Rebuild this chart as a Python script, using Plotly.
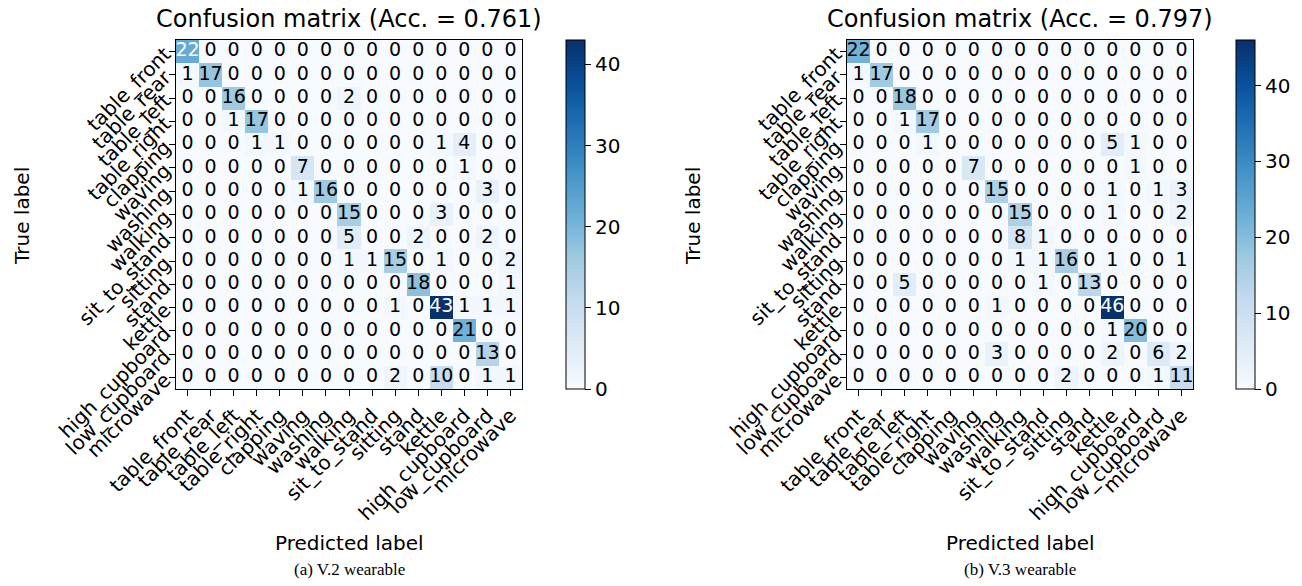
import plotly.graph_objects as go

labels = ["table_front", "table_rear", "table_left", "table_right", "clapping",
          "waving", "washing", "walking", "sit_to_stand", "sitting", "stand",
          "kettle", "high_cupboard", "low_cupboard", "microwave"]

cm_v2 = [
    [22, 0, 0, 0, 0, 0, 0, 0, 0, 0, 0, 0, 0, 0, 0],
    [1, 17, 0, 0, 0, 0, 0, 0, 0, 0, 0, 0, 0, 0, 0],
    [0, 0, 16, 0, 0, 0, 0, 2, 0, 0, 0, 0, 0, 0, 0],
    [0, 0, 1, 17, 0, 0, 0, 0, 0, 0, 0, 0, 0, 0, 0],
    [0, 0, 0, 1, 1, 0, 0, 0, 0, 0, 0, 1, 4, 0, 0],
    [0, 0, 0, 0, 0, 7, 0, 0, 0, 0, 0, 0, 1, 0, 0],
    [0, 0, 0, 0, 0, 1, 16, 0, 0, 0, 0, 0, 0, 3, 0],
    [0, 0, 0, 0, 0, 0, 0, 15, 0, 0, 0, 3, 0, 0, 0],
    [0, 0, 0, 0, 0, 0, 0, 5, 0, 0, 2, 0, 0, 2, 0],
    [0, 0, 0, 0, 0, 0, 0, 1, 1, 15, 0, 1, 0, 0, 2],
    [0, 0, 0, 0, 0, 0, 0, 0, 0, 0, 18, 0, 0, 0, 1],
    [0, 0, 0, 0, 0, 0, 0, 0, 0, 1, 0, 43, 1, 1, 1],
    [0, 0, 0, 0, 0, 0, 0, 0, 0, 0, 0, 0, 21, 0, 0],
    [0, 0, 0, 0, 0, 0, 0, 0, 0, 0, 0, 0, 0, 13, 0],
    [0, 0, 0, 0, 0, 0, 0, 0, 0, 2, 0, 10, 0, 1, 1],
]

cm_v3 = [
    [22, 0, 0, 0, 0, 0, 0, 0, 0, 0, 0, 0, 0, 0, 0],
    [1, 17, 0, 0, 0, 0, 0, 0, 0, 0, 0, 0, 0, 0, 0],
    [0, 0, 18, 0, 0, 0, 0, 0, 0, 0, 0, 0, 0, 0, 0],
    [0, 0, 1, 17, 0, 0, 0, 0, 0, 0, 0, 0, 0, 0, 0],
    [0, 0, 0, 1, 0, 0, 0, 0, 0, 0, 0, 5, 1, 0, 0],
    [0, 0, 0, 0, 0, 7, 0, 0, 0, 0, 0, 0, 1, 0, 0],
    [0, 0, 0, 0, 0, 0, 15, 0, 0, 0, 0, 1, 0, 1, 3],
    [0, 0, 0, 0, 0, 0, 0, 15, 0, 0, 0, 1, 0, 0, 2],
    [0, 0, 0, 0, 0, 0, 0, 8, 1, 0, 0, 0, 0, 0, 0],
    [0, 0, 0, 0, 0, 0, 0, 1, 1, 16, 0, 1, 0, 0, 1],
    [0, 0, 5, 0, 0, 0, 0, 0, 1, 0, 13, 0, 0, 0, 0],
    [0, 0, 0, 0, 0, 0, 1, 0, 0, 0, 0, 46, 0, 0, 0],
    [0, 0, 0, 0, 0, 0, 0, 0, 0, 0, 0, 1, 20, 0, 0],
    [0, 0, 0, 0, 0, 0, 3, 0, 0, 0, 0, 2, 0, 6, 2],
    [0, 0, 0, 0, 0, 0, 0, 0, 0, 2, 0, 0, 0, 1, 11],
]

titles = ["Confusion matrix (Acc. = 0.761)", "Confusion matrix (Acc. = 0.797)"]
captions = ["(a) V.2 wearable", "(b) V.3 wearable"]
cbar_ticks = [0, 10, 20, 30, 40]

W, H = 1302, 586
blues = [[0.0, "#f7fbff"], [0.125, "#deebf7"], [0.25, "#c6dbef"], [0.375, "#9ecae1"],
         [0.5, "#6baed6"], [0.625, "#4292c6"], [0.75, "#2171b5"], [0.875, "#08519c"],
         [1.0, "#08306b"]]

FONT = "DejaVu Sans"
panels = [
    dict(x0=176, x1=522, cb=566),
    dict(x0=847, x1=1193, cb=1236),
]
ytop, ybot = 40, 389

fig = go.Figure()
idx = list(range(len(labels)))
annotations = []

for k, (cm, p) in enumerate(zip([cm_v2, cm_v3], panels)):
    n = len(labels)
    zmax = max(max(r) for r in cm)
    xa = "x" if k == 0 else "x2"
    ya = "y" if k == 0 else "y2"
    fig.add_trace(go.Heatmap(
        z=cm, x=idx, y=idx, xaxis=xa, yaxis=ya, zmin=0, zmax=zmax,
        colorscale=blues, hoverinfo="skip",
        colorbar=dict(
            x=p["cb"] / W, xanchor="left", xpad=0, y=1 - ytop / H, yanchor="top",
            ypad=0, len=(ybot - ytop), lenmode="pixels", thickness=19,
            thicknessmode="pixels", outlinecolor="black", outlinewidth=1,
            tickvals=cbar_ticks, ticks="outside", ticklen=6, tickcolor="black",
            tickfont=dict(family=FONT, size=20, color="black"),
        ),
    ))
    xs, ys, txt, cols = [], [], [], []
    for i in range(n):
        for j in range(n):
            xs.append(j)
            ys.append(i)
            txt.append(str(cm[i][j]))
            cols.append("white" if cm[i][j] > zmax / 2 else "black")
    fig.add_trace(go.Scatter(
        x=xs, y=ys, text=txt, mode="text", xaxis=xa, yaxis=ya,
        textfont=dict(family=FONT, size=19, color=cols),
        textposition="middle center", hoverinfo="skip", showlegend=False,
    ))
    axcommon = dict(
        tickmode="array", tickvals=idx, ticktext=labels, tickangle=-45,
        ticks="outside", ticklen=6, tickcolor="black", showline=True,
        linecolor="black", linewidth=1, mirror=True, showgrid=False,
        zeroline=False, automargin=False,
        tickfont=dict(family=FONT, size=20, color="black"),
    )
    xname = "xaxis" if k == 0 else "xaxis2"
    yname = "yaxis" if k == 0 else "yaxis2"
    fig.update_layout(**{
        xname: dict(axcommon, domain=[p["x0"] / W, p["x1"] / W],
                    range=[-0.5, n - 0.5], anchor=ya),
        yname: dict(axcommon, domain=[1 - ybot / H, 1 - ytop / H],
                    range=[n - 0.5, -0.5], anchor=xa),
    })
    cx = (p["x0"] + p["x1"]) / 2 / W
    annotations.append(dict(text=titles[k], x=cx, y=1 - 19 / H, xref="paper", yref="paper",
                            showarrow=False, xanchor="center", yanchor="middle",
                            font=dict(family=FONT, size=24, color="black")))
    annotations.append(dict(text="Predicted label", x=cx, y=1 - 543 / H, xref="paper",
                            yref="paper", showarrow=False, xanchor="center", yanchor="middle",
                            font=dict(family=FONT, size=20, color="black")))
    annotations.append(dict(text="True label", x=(p["x0"] - 154) / W, y=1 - 216 / H,
                            xref="paper", yref="paper", showarrow=False, textangle=-90,
                            xanchor="center", yanchor="middle",
                            font=dict(family=FONT, size=20, color="black")))
    annotations.append(dict(text=captions[k], x=cx, y=1 - 569 / H, xref="paper",
                            yref="paper", showarrow=False, xanchor="center", yanchor="middle",
                            font=dict(family="Liberation Serif", size=17, color="black")))

fig.update_layout(
    width=W, height=H, margin=dict(l=0, r=0, t=0, b=0, autoexpand=False),
    paper_bgcolor="white", plot_bgcolor="white", showlegend=False,
    annotations=annotations,
)

fig.write_html("out.html", config={"displayModeBar": False},
               post_script="document.body.style.margin='0px';")
